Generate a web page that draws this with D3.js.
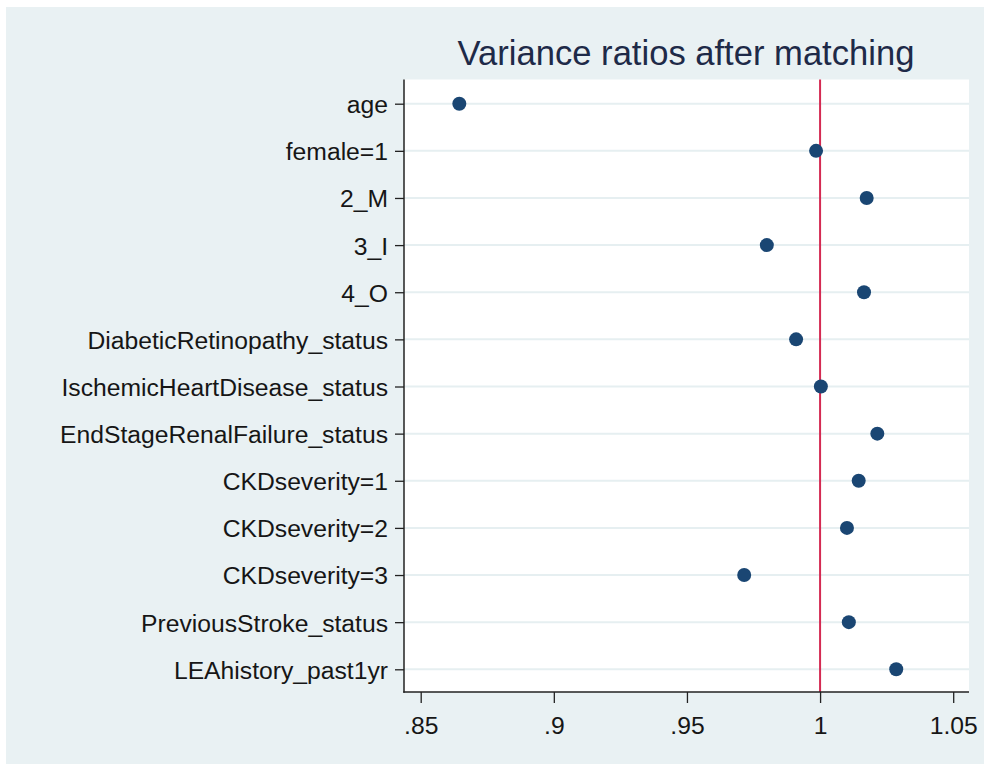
<!DOCTYPE html>
<html>
<head>
<meta charset="utf-8">
<script src="https://cdn.jsdelivr.net/npm/d3@7"></script>
<style>
  html, body { margin: 0; padding: 0; background: #ffffff; }
  svg { display: block; font-family: "Liberation Sans", Arial, sans-serif; }
</style>
</head>
<body>
<svg id="chart" width="984" height="765"></svg>
<script>
// Covariates, top to bottom
const categories = [
  "age",
  "female=1",
  "2_M",
  "3_I",
  "4_O",
  "DiabeticRetinopathy_status",
  "IschemicHeartDisease_status",
  "EndStageRenalFailure_status",
  "CKDseverity=1",
  "CKDseverity=2",
  "CKDseverity=3",
  "PreviousStroke_status",
  "LEAhistory_past1yr"
];

// Variance ratio of each covariate after matching
const varianceRatios = [
  0.8645, 0.9985, 1.0175, 0.9800, 1.0165, 0.9910, 1.0003,
  1.0215, 1.0145, 1.0101, 0.9715, 1.0108, 1.0286
];

const xTickValues = [0.85, 0.9, 0.95, 1, 1.05];
const xTickLabels = [".85", ".9", ".95", "1", "1.05"];
const referenceLine = 1;
const titleText = "Variance ratios after matching";

const svg = d3.select("#chart");
const W = 984, H = 765;

// Plot region
const plot = { left: 404, right: 969, top: 79.5, bottom: 692 };

// Outer background panel
svg.append("rect")
  .attr("x", 6).attr("y", 7)
  .attr("width", W - 6).attr("height", 757)
  .attr("fill", "#e9f1f3");

// Plot background
svg.append("rect")
  .attr("x", plot.left).attr("y", plot.top)
  .attr("width", plot.right - plot.left)
  .attr("height", plot.bottom - plot.top)
  .attr("fill", "#ffffff");

const x = d3.scaleLinear()
  .domain([0.85, 1.05])
  .range([420.7, 953.2]);

const y = d3.scalePoint()
  .domain(categories)
  .range([103.7, 669.3]);

// Horizontal grid lines at each covariate
svg.append("g")
  .selectAll("line")
  .data(categories)
  .join("line")
  .attr("x1", plot.left).attr("x2", plot.right)
  .attr("y1", d => y(d)).attr("y2", d => y(d))
  .attr("stroke", "#e6eff1")
  .attr("stroke-width", 2);

// Reference line at ratio = 1
svg.append("line")
  .attr("x1", x(referenceLine)).attr("x2", x(referenceLine))
  .attr("y1", plot.top).attr("y2", plot.bottom)
  .attr("stroke", "#d42a52")
  .attr("stroke-width", 2);

// Points
svg.append("g")
  .selectAll("circle")
  .data(categories.map((c, i) => ({ c, v: varianceRatios[i] })))
  .join("circle")
  .attr("cx", d => x(d.v))
  .attr("cy", d => y(d.c))
  .attr("r", 7)
  .attr("fill", "#1a4673");

// Y axis
const yAxis = d3.axisLeft(y).tickSize(9).tickPadding(7);
const gy = svg.append("g")
  .attr("transform", `translate(${plot.left},0)`)
  .call(yAxis);
gy.select(".domain").remove();
gy.append("line")
  .attr("x1", 0).attr("x2", 0)
  .attr("y1", plot.top).attr("y2", plot.bottom + 0.75)
  .attr("stroke", "#222").attr("stroke-width", 1.5);
gy.selectAll(".tick line").attr("stroke", "#222").attr("stroke-width", 1.3);
gy.selectAll(".tick text")
  .attr("font-size", 24.7)
  .attr("fill", "#161616")
  .attr("font-family", "'Liberation Sans', Arial, sans-serif")
  .attr("dy", "0.36em");

// X axis
const xAxis = d3.axisBottom(x)
  .tickValues(xTickValues)
  .tickFormat((d, i) => xTickLabels[i])
  .tickSize(11)
  .tickPadding(13);
const gx = svg.append("g")
  .attr("transform", `translate(0,${plot.bottom})`)
  .call(xAxis);
gx.select(".domain").remove();
gx.append("line")
  .attr("x1", plot.left - 0.75).attr("x2", plot.right)
  .attr("y1", 0).attr("y2", 0)
  .attr("stroke", "#222").attr("stroke-width", 1.5);
gx.selectAll(".tick line").attr("stroke", "#222").attr("stroke-width", 1.3);
gx.selectAll(".tick text")
  .attr("font-size", 24.7)
  .attr("fill", "#161616")
  .attr("font-family", "'Liberation Sans', Arial, sans-serif");

// Title
svg.append("text")
  .attr("x", 686)
  .attr("y", 64.5)
  .attr("text-anchor", "middle")
  .attr("font-size", 34.6)
  .attr("fill", "#1e2a48")
  .text(titleText);
</script>
</body>
</html>
